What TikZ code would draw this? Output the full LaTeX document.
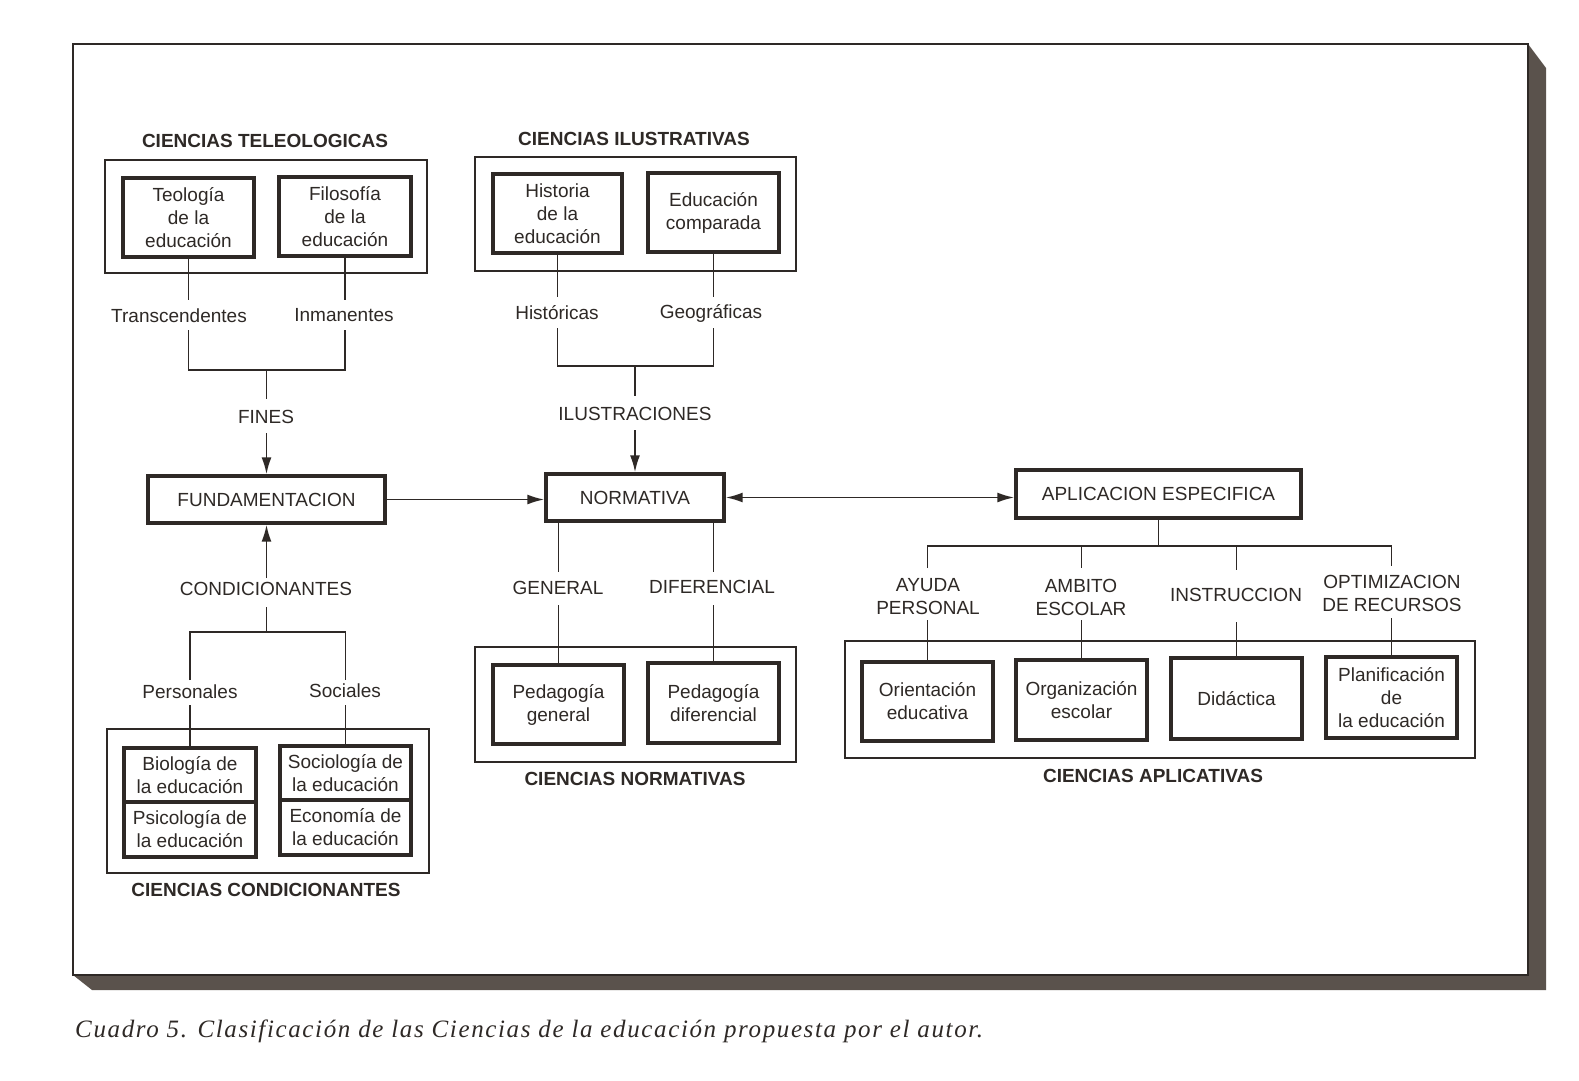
\documentclass[tikz,border=0pt]{standalone}
\usepackage{fontspec}
\setmainfont{Liberation Sans}
\newfontfamily\capfont[LetterSpace=6.5]{Liberation Serif}
\usetikzlibrary{arrows.meta}
\definecolor{ink}{HTML}{2E2926}
\definecolor{shadowc}{HTML}{5A524C}
\newcommand\fs{\fontsize{19}{23}\selectfont}
\begin{document}
\begin{tikzpicture}[x=1pt,y=-1pt,
  thk/.style={draw=ink,line width=3.4pt,inner sep=0pt,align=center,font=\fs,text=ink},
  outb/.style={draw=ink,line width=1.9pt,inner sep=0pt},
  lbl/.style={font=\fs,inner sep=0pt,anchor=base,text=ink},
  ml/.style={font=\fs,inner sep=0pt,align=center,text=ink},
  ttl/.style={font=\fs\bfseries,inner sep=0pt,anchor=base,text=ink},
  ln/.style={draw=ink,line width=1.9pt},
  arr/.style={ln,-{Latex[length=17pt,width=10pt]}},
  darr/.style={ln,{Latex[length=17pt,width=10pt]}-{Latex[length=17pt,width=10pt]}}]
\useasboundingbox (0,0) rectangle (1579,1081);
\fill[white] (0,0) rectangle (1579,1081);
% frame with shadow
\fill[shadowc] (1528,44) -- (1546,68) -- (1546,990) -- (92,990) -- (73,975) -- cycle;
\draw[ink,line width=2pt,fill=white] (73,44) rectangle (1528,975);
\node[anchor=base west,inner sep=0pt,text=ink,font=\capfont\itshape\fontsize{25}{29}\selectfont] (cap) at (75,1037) {Cuadro 5. Clasificación de las Ciencias de la educación propuesta por el autor.};

% ---------- teleologicas
\node[outb,minimum width=322pt,minimum height=113pt] (teoO) at (266,216.5) {};
\node[thk,minimum width=131pt,minimum height=79pt] (teol) at (188.5,217.5) {Teología\\de la\\educación};
\node[thk,minimum width=132pt,minimum height=79pt] (filo) at (345,216.5) {Filosofía\\de la\\educación};
\node[ttl] (tteo) at (265,147) {CIENCIAS TELEOLOGICAS};
\node[lbl] (transc) at (179,322) {Transcendentes};
\node[lbl] (inman) at (344,321) {Inmanentes};
\node[lbl] (fines) at (266,423) {FINES};
\node[thk,minimum width=237pt,minimum height=47pt] (fund) at (266.5,499.5) {FUNDAMENTACION};
\draw[ln] (teol.south) -- (teol.south |- 0,300);
\draw[ln] (filo.south) -- (filo.south |- 0,300);
\draw[ln] (teol.south |- 0,330) |- (fund.north |- 0,370) -| (filo.south |- 0,330);
\draw[ln] (fund.north |- 0,370) -- (fund.north |- 0,399);
\draw[arr] (fund.north |- 0,433) -- (fund.north);

% ---------- ilustrativas
\node[outb,minimum width=321pt,minimum height=114pt] (ilO) at (635.5,214) {};
\node[thk,minimum width=129pt,minimum height=79pt] (hist) at (557.5,213.5) {Historia\\de la\\educación};
\node[thk,minimum width=131pt,minimum height=79pt] (comp) at (713.5,212.5) {Educación\\comparada};
\node[ttl] (tilu) at (634,145) {CIENCIAS ILUSTRATIVAS};
\node[lbl] (histc) at (557,319) {Históricas};
\node[lbl] (geog) at (711,318) {Geográficas};
\node[lbl] (ilus) at (635,420) {ILUSTRACIONES};
\node[thk,minimum width=178pt,minimum height=47pt] (norm) at (635,497.5) {NORMATIVA};
\draw[ln] (hist.south) -- (hist.south |- 0,297);
\draw[ln] (comp.south) -- (comp.south |- 0,297);
\draw[ln] (hist.south |- 0,328) |- (norm.north |- 0,366) -| (comp.south |- 0,328);
\draw[ln] (norm.north |- 0,366) -- (norm.north |- 0,396);
\draw[arr] (norm.north |- 0,430) -- (norm.north);
\draw[arr] (fund.east) -- (fund.east -| norm.west);

% ---------- condicionantes
\node[lbl] (cond) at (266,595) {CONDICIONANTES};
\draw[arr] (fund.south |- 0,578) -- (fund.south);
\node[outb,minimum width=322pt,minimum height=144pt] (condO) at (268,801) {};
\node[thk,minimum width=132pt,minimum height=54pt] (biol) at (190,775) {Biología de\\la educación};
\node[thk,minimum width=132pt,minimum height=55pt] (psic) at (190,829.5) {Psicología de\\la educación};
\node[thk,minimum width=131pt,minimum height=54pt] (socio) at (345.5,773) {Sociología de\\la educación};
\node[thk,minimum width=131pt,minimum height=55pt] (econ) at (345.5,827.5) {Economía de\\la educación};
\node[lbl] (pers) at (190,698) {Personales};
\node[lbl] (soc) at (345,697) {Sociales};
\node[ttl] (tcond) at (266,896) {CIENCIAS CONDICIONANTES};
\draw[ln] (fund.south |- 0,607) -- (fund.south |- 0,632);
\draw[ln] (biol.north |- 0,680) |- (fund.south |- 0,632) -| (socio.north |- 0,680);
\draw[ln] (biol.north |- 0,705) -- (biol.north);
\draw[ln] (socio.north |- 0,705) -- (socio.north);

% ---------- normativas
\node[outb,minimum width=321pt,minimum height=115pt] (normO) at (635.5,704.5) {};
\node[thk,minimum width=131pt,minimum height=79pt] (pgen) at (558.5,704.5) {Pedagogía\\general};
\node[thk,minimum width=131pt,minimum height=80pt] (pdif) at (713.5,703) {Pedagogía\\diferencial};
\node[lbl] (gen) at (558,594) {GENERAL};
\node[lbl] (dif) at (712,593) {DIFERENCIAL};
\node[ttl] (tnorm) at (635,785) {CIENCIAS NORMATIVAS};
\draw[ln] (pgen.north |- norm.south) -- (pgen.north |- 0,572);
\draw[ln] (pgen.north |- 0,605) -- (pgen.north);
\draw[ln] (pdif.north |- norm.south) -- (pdif.north |- 0,572);
\draw[ln] (pdif.north |- 0,605) -- (pdif.north);

% ---------- aplicativas
\node[thk,minimum width=285pt,minimum height=48pt] (apl) at (1158.5,494) {APLICACION ESPECIFICA};
\draw[darr] (norm.east) -- (norm.east -| apl.west);
\node[outb,minimum width=630pt,minimum height=117pt] (aplO) at (1160,699.5) {};
\node[thk,minimum width=131pt,minimum height=79pt] (orient) at (927.5,701.5) {Orientación\\educativa};
\node[thk,minimum width=131pt,minimum height=80pt] (organ) at (1081.5,700) {Organización\\escolar};
\node[thk,minimum width=131pt,minimum height=81pt] (didac) at (1236.5,698.5) {Didáctica};
\node[thk,minimum width=131pt,minimum height=81pt] (planif) at (1391.5,697.5) {Planificación\\de\\la educación};
\node[ml] (ayuda) at (928,597) {AYUDA\\PERSONAL};
\node[ml] (ambito) at (1081,597) {AMBITO\\ESCOLAR};
\node[lbl] (instr) at (1236,601) {INSTRUCCION};
\node[ml] (optim) at (1392,593) {OPTIMIZACION\\DE RECURSOS};
\node[ttl] (tapl) at (1153,782) {CIENCIAS APLICATIVAS};
\draw[ln] (apl.south) -- (apl.south |- 0,546);
\draw[ln] (orient.north |- 0,568) |- (planif.north |- 0,546) -- (planif.north |- 0,566);
\draw[ln] (organ.north |- 0,546) -- (organ.north |- 0,568);
\draw[ln] (didac.north |- 0,546) -- (didac.north |- 0,570);
\draw[ln] (orient.north |- 0,620) -- (orient.north);
\draw[ln] (organ.north |- 0,620) -- (organ.north);
\draw[ln] (didac.north |- 0,622) -- (didac.north);
\draw[ln] (planif.north |- 0,618) -- (planif.north);
\end{tikzpicture}
\end{document}
